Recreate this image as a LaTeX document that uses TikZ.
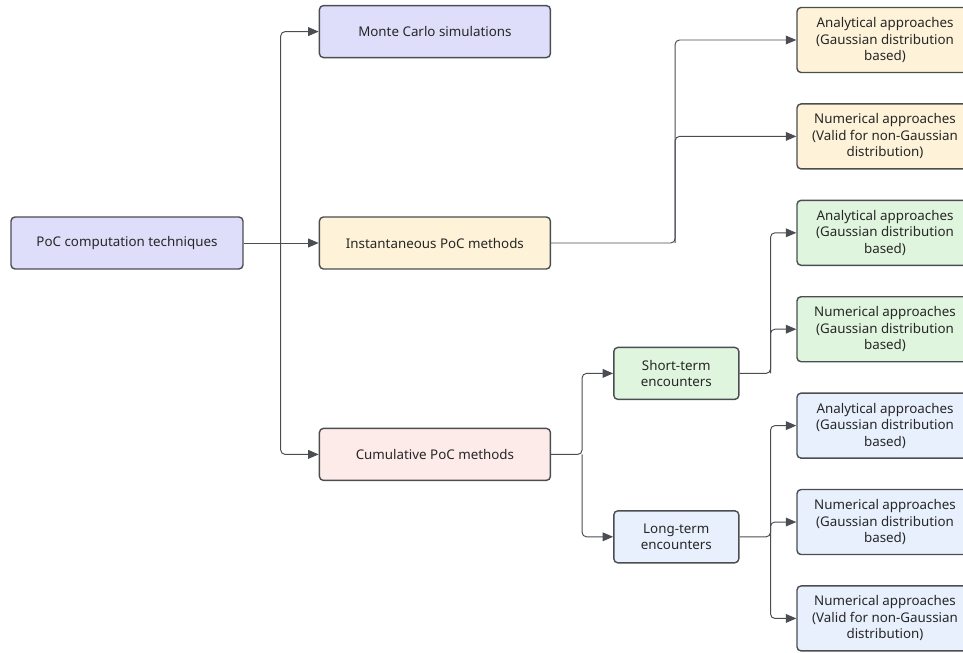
\documentclass[tikz,border=0pt]{standalone}
\usepackage{fontspec}
\setmainfont{Noto Sans}
\usetikzlibrary{positioning,arrows.meta}

\definecolor{edgegray}{HTML}{4A4D52}
\definecolor{fillpurple}{HTML}{DEDEFB}
\definecolor{fillyellow}{HTML}{FEF2D8}
\definecolor{fillpink}{HTML}{FDEBEA}
\definecolor{fillgreen}{HTML}{E0F5DE}
\definecolor{fillblue}{HTML}{E8F0FD}

\begin{document}
\begin{tikzpicture}
[box/.style={draw=edgegray,line width=0.8pt,rounded corners=2.3pt,align=center,
   font=\fontsize{7.6}{9.4}\selectfont,text=black!85},
 wide/.style={box,minimum width=4.62cm,minimum height=1.04cm},
 mid/.style={box,minimum width=2.5cm,minimum height=1.04cm},
 leaf/.style={box,minimum width=3.52cm,minimum height=1.3cm,inner sep=1pt},
 conn/.style={draw=edgegray,line width=0.55pt,rounded corners=2.5pt,
   -{Triangle[length=6pt,width=5pt]}}]
\useasboundingbox (0,0) rectangle (19.26,-13.06);
% first column
\node[wide,fill=fillpurple,minimum width=4.64cm](root) at (2.54,-4.86){PoC computation techniques};
\node[wide,fill=fillyellow,right=1.5cm of root](inst){Instantaneous PoC methods};
\node[wide,fill=fillpurple,above=3.16cm of inst](mc){Monte Carlo simulations};
\node[wide,fill=fillpink,below=3.16cm of inst](cum){Cumulative PoC methods};
% encounters
\node[mid,fill=fillgreen,right=1.24cm of cum,yshift=1.62cm](short){Short-term\\encounters};
\node[mid,fill=fillblue,below=2.2cm of short](long){Long-term\\encounters};
% leaves
\node[leaf,fill=fillyellow](ia) at (17.7,-0.8){Analytical approaches\\(Gaussian distribution\\based)};
\node[leaf,fill=fillyellow,below=0.6cm of ia](in){Numerical approaches\\(Valid for non-Gaussian\\distribution)};
\node[leaf,fill=fillgreen,below=0.6cm of in](sa){Analytical approaches\\(Gaussian distribution\\based)};
\node[leaf,fill=fillgreen,below=0.6cm of sa](sn){Numerical approaches\\(Gaussian distribution\\based)};
\node[leaf,fill=fillblue,below=0.6cm of sn](la){Analytical approaches\\(Gaussian distribution\\based)};
\node[leaf,fill=fillblue,below=0.6cm of la](ln){Numerical approaches\\(Gaussian distribution\\based)};
\node[leaf,fill=fillblue,below=0.6cm of ln](lv){Numerical approaches\\(Valid for non-Gaussian\\distribution)};
% forks
\coordinate[right=0.74cm of root.east](rootfork);
\coordinate[right=2.48cm of inst.east](instfork);
\coordinate[right=0.62cm of cum.east](cumfork);
\coordinate[right=0.62cm of short.east](shortfork);
\coordinate[right=0.62cm of long.east](longfork);
% connectors
\draw[conn] (root.east) -- (inst.west);
\draw[conn] (rootfork) |- (mc.west);
\draw[conn] (rootfork) |- (cum.west);
\draw[conn] (inst.east) -- (instfork) |- (ia.west);
\draw[conn] (instfork) |- (in.west);
\draw[conn] (cum.east) -- (cumfork) |- (short.west);
\draw[conn] (cumfork) |- (long.west);
\draw[conn] (short.east) -- (shortfork) |- (sa.west);
\draw[conn] (shortfork) |- (sn.west);
\draw[conn] (long.east) -- (longfork) |- (la.west);
\draw[conn] (longfork) |- (ln.west);
\draw[conn] (longfork) |- (lv.west);
\end{tikzpicture}
\end{document}
